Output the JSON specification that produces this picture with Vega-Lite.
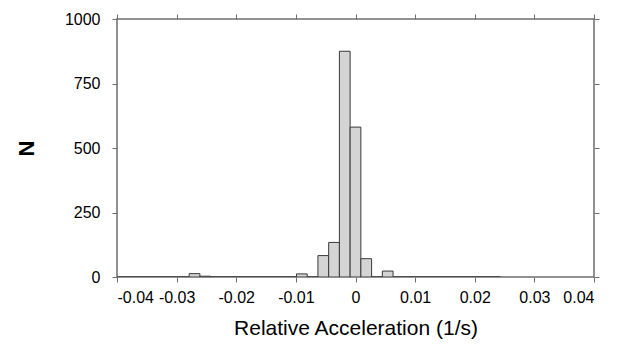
{
  "$schema": "https://vega.github.io/schema/vega-lite/v6.json",
  "autosize": {"type": "none"},
  "width": 477,
  "height": 258,
  "padding": {"left": 117, "top": 19, "right": 32, "bottom": 72},
  "background": "white",
  "config": {
    "view": {"stroke": "#6e6e6e", "strokeWidth": 1.5},
    "axis": {
      "domain": false,
      "grid": false,
      "tickColor": "#6e6e6e",
      "tickSize": 5,
      "tickWidth": 1,
      "labelFont": "Liberation Sans",
      "labelFontSize": 16,
      "labelColor": "#000",
      "titleFont": "Liberation Sans",
      "titleColor": "#000",
      "titleFontWeight": "normal"
    }
  },
  "data": {
    "values": [
      {"x0": -0.0405, "x1": -0.0387, "n": 0},
      {"x0": -0.0387, "x1": -0.0369, "n": 0},
      {"x0": -0.0369, "x1": -0.0351, "n": 0},
      {"x0": -0.0351, "x1": -0.0333, "n": 0},
      {"x0": -0.0333, "x1": -0.0315, "n": 0},
      {"x0": -0.0315, "x1": -0.0297, "n": 0},
      {"x0": -0.0297, "x1": -0.0279, "n": 0},
      {"x0": -0.0279, "x1": -0.0261, "n": 13},
      {"x0": -0.0261, "x1": -0.0243, "n": 3},
      {"x0": -0.0243, "x1": -0.0225, "n": 0},
      {"x0": -0.0225, "x1": -0.0207, "n": 0},
      {"x0": -0.0207, "x1": -0.0189, "n": 0},
      {"x0": -0.0189, "x1": -0.0171, "n": 0},
      {"x0": -0.0171, "x1": -0.0153, "n": 0},
      {"x0": -0.0153, "x1": -0.0135, "n": 0},
      {"x0": -0.0135, "x1": -0.0117, "n": 0},
      {"x0": -0.0117, "x1": -0.0099, "n": 0},
      {"x0": -0.0099, "x1": -0.0081, "n": 12},
      {"x0": -0.0081, "x1": -0.0063, "n": 0},
      {"x0": -0.0063, "x1": -0.0045, "n": 83},
      {"x0": -0.0045, "x1": -0.0027, "n": 134},
      {"x0": -0.0027, "x1": -0.0009, "n": 875},
      {"x0": -0.0009, "x1": 0.0009, "n": 581},
      {"x0": 0.0009, "x1": 0.0027, "n": 71},
      {"x0": 0.0027, "x1": 0.0045, "n": 0},
      {"x0": 0.0045, "x1": 0.0063, "n": 23},
      {"x0": 0.0063, "x1": 0.0081, "n": 0},
      {"x0": 0.0081, "x1": 0.0099, "n": 0},
      {"x0": 0.0099, "x1": 0.0117, "n": 0},
      {"x0": 0.0117, "x1": 0.0135, "n": 0},
      {"x0": 0.0135, "x1": 0.0153, "n": 0},
      {"x0": 0.0153, "x1": 0.0171, "n": 0},
      {"x0": 0.0171, "x1": 0.0189, "n": 0},
      {"x0": 0.0189, "x1": 0.0207, "n": 0},
      {"x0": 0.0207, "x1": 0.0225, "n": 0},
      {"x0": 0.0225, "x1": 0.0243, "n": 0}
    ]
  },
  "layer": [
    {
      "mark": {"type": "rect", "fill": "#d4d4d4", "stroke": "#3a3a3a", "strokeWidth": 1, "clip": true},
      "encoding": {
        "x": {
          "field": "x0", "type": "quantitative",
          "scale": {"domain": [-0.04, 0.04], "nice": false, "zero": false},
          "axis": {
            "orient": "bottom",
            "values": [-0.04, -0.03, -0.02, -0.01, 0, 0.01, 0.02, 0.03, 0.04],
            "labelExpr": "'' + datum.value",
            "labelPadding": 7,
            "title": "Relative Acceleration (1/s)",
            "titleFontSize": 21,
            "titlePadding": 12
          }
        },
        "x2": {"field": "x1"},
        "y": {
          "field": "n", "type": "quantitative",
          "scale": {"domain": [0, 1000], "nice": false},
          "axis": {
            "orient": "left",
            "values": [0, 250, 500, 750, 1000],
            "labelExpr": "'' + datum.value",
            "labelPadding": 12,
            "title": "N",
            "titleFontSize": 22,
            "titleFontWeight": "bold",
            "titlePadding": 26
          }
        },
        "y2": {"datum": 0}
      }
    },
    {
      "mark": {"type": "rect", "opacity": 0},
      "encoding": {
        "x": {
          "field": "x0", "type": "quantitative",
          "axis": {
            "orient": "top",
            "values": [-0.04, -0.03, -0.02, -0.01, 0, 0.01, 0.02, 0.03, 0.04],
            "labels": false,
            "title": null
          }
        },
        "x2": {"field": "x1"},
        "y": {
          "field": "n", "type": "quantitative",
          "axis": {
            "orient": "right",
            "values": [0, 250, 500, 750, 1000],
            "labels": false,
            "title": null
          }
        },
        "y2": {"datum": 0}
      }
    }
  ],
  "resolve": {"axis": {"x": "independent", "y": "independent"}}
}
